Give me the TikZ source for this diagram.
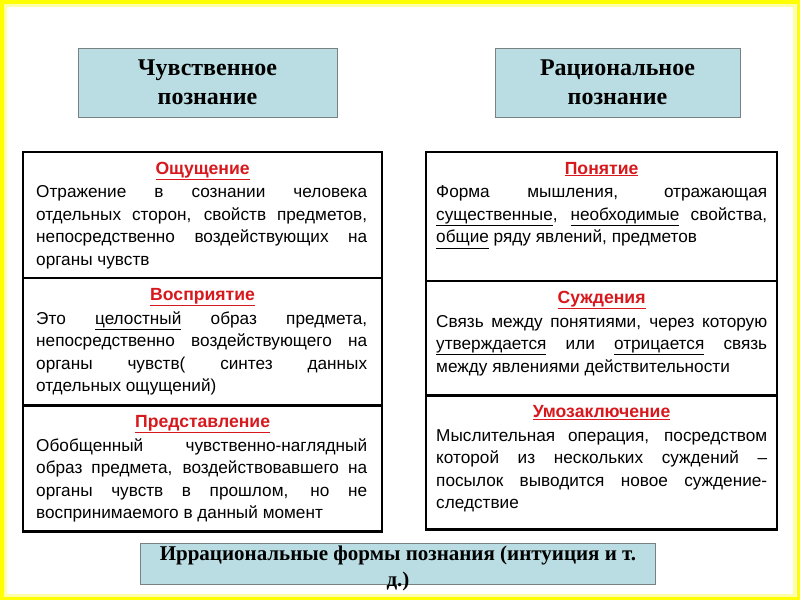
\documentclass[tikz,border=0pt]{standalone}
\usepackage{fontspec}
\setmainfont{Liberation Serif}
\newfontfamily\bodyfont{Liberation Sans}
\usetikzlibrary{positioning}

\definecolor{headfill}{RGB}{185,221,226}
\definecolor{headline}{RGB}{120,130,130}
\definecolor{titlered}{RGB}{215,25,30}
\definecolor{framey}{RGB}{255,255,0}

\hbadness=10000

\tikzset{
  headbox/.style={draw=headline, line width=1pt, fill=headfill, inner sep=0pt},
  headtext/.style={font=\fontsize{24}{29}\selectfont\bfseries, align=center},
  irrtext/.style={font=\fontsize{21}{26}\selectfont\bfseries, align=center, inner sep=0pt},
  cell/.style={draw=black, line width=1.2pt, inner sep=0pt, anchor=north west},
  ttl/.style={font=\bodyfont\fontsize{17.6}{20}\selectfont\bfseries, text=titlered, inner sep=0pt, anchor=base},
  body/.style={font=\bodyfont\fontsize{17.2}{22.5}\selectfont, text width=331pt, align=justify, inner sep=0pt, anchor=north west},
  tblframe/.style={draw=black, line width=2.4pt},
}

\begin{document}
\begin{tikzpicture}[x=1pt,y=-1pt]
    % page with the yellow frame
    \useasboundingbox (0,0) rectangle (800,600);
    \fill[white] (0,0) rectangle (800,600);
    \draw[framey!35, line width=3pt] (5.5,5) rectangle (794.5,595);
    \draw[framey, line width=3.5pt] (1.75,1.75) rectangle (798.25,598.25);

    % the two headers
    \node[headbox, headtext, minimum width=259pt, minimum height=69pt] (sens) at (207.5,82.5) {Чувственное\\познание};
    \node[headbox, headtext, minimum width=245pt, minimum height=69pt] (rat) at (617.5,82.5) {Рациональное\\познание};

    % left table: three cells
    \node[cell, minimum width=358pt, minimum height=125pt] (osh) at (23,152) {};
    \node[cell, minimum width=358pt, minimum height=126pt] (vos) at (osh.south west) {};
    \node[cell, minimum width=358pt, minimum height=125pt] (pred) at (vos.south west) {};
    \draw[tblframe] (osh.north west) rectangle (pred.south east);

    \node[ttl] (oshT) at ([yshift=-22]osh.north) {\underline{Ощущение}};
    \node[body] (oshB) at ([xshift=13,yshift=-30]osh.north west) {\strut Отражение в сознании человека\linebreak
      отдельных сторон, свойств предметов,\linebreak
      непосредственно воздействующих на\linebreak
      органы чувств};

    \node[ttl] (vosT) at ([yshift=-22]vos.north) {\underline{Восприятие}};
    \node[body] (vosB) at ([xshift=13,yshift=-30]vos.north west) {\strut Это \underline{целостный} образ предмета,\linebreak
      непосредственно воздействующего на\linebreak
      органы чувств( синтез данных\linebreak
      отдельных ощущений)};

    \node[ttl] (predT) at ([yshift=-22]pred.north) {\underline{Представление}};
    \node[body] (predB) at ([xshift=13,yshift=-30]pred.north west) {\strut Обобщенный чувственно-наглядный\linebreak
      образ предмета, воздействовавшего на\linebreak
      органы чувств в прошлом, но не\linebreak
      воспринимаемого в данный момент};

    % right table: three cells
    \node[cell, minimum width=350pt, minimum height=128pt] (pon) at (426,152) {};
    \node[cell, minimum width=350pt, minimum height=113pt] (suzh) at (pon.south west) {};
    \node[cell, minimum width=350pt, minimum height=133pt] (umo) at (suzh.south west) {};
    \draw[tblframe] (pon.north west) rectangle (umo.south east);

    \node[ttl] (ponT) at ([yshift=-22]pon.north) {\underline{Понятие}};
    \node[body] (ponB) at ([xshift=10,yshift=-30]pon.north west) {\strut Форма мышления, отражающая\linebreak
      \underline{существенные}, \underline{необходимые} свойства,\linebreak
      \underline{общие} ряду явлений, предметов};

    \node[ttl] (suzhT) at ([yshift=-22]suzh.north) {\underline{Суждения}};
    \node[body] (suzhB) at ([xshift=10,yshift=-30]suzh.north west) {\strut Связь между понятиями, через которую\linebreak
      \underline{утверждается} или \underline{отрицается} связь\linebreak
      между явлениями действительности};

    \node[ttl] (umoT) at ([yshift=-22]umo.north) {\underline{Умозаключение}};
    \node[body] (umoB) at ([xshift=10,yshift=-30]umo.north west) {\strut Мыслительная операция, посредством\linebreak
      которой из нескольких суждений –\linebreak
      посылок выводится новое суждение-\linebreak
      следствие};

    % bottom box, its text runs out below it
    \node[headbox, minimum width=515pt, minimum height=41pt, anchor=north west] (irr) at (140,543) {};
    \node[irrtext, anchor=north] (irrT) at ([yshift=-3]irr.north) {Иррациональные формы познания (интуиция и т.\\д.)};
\end{tikzpicture}
\end{document}
